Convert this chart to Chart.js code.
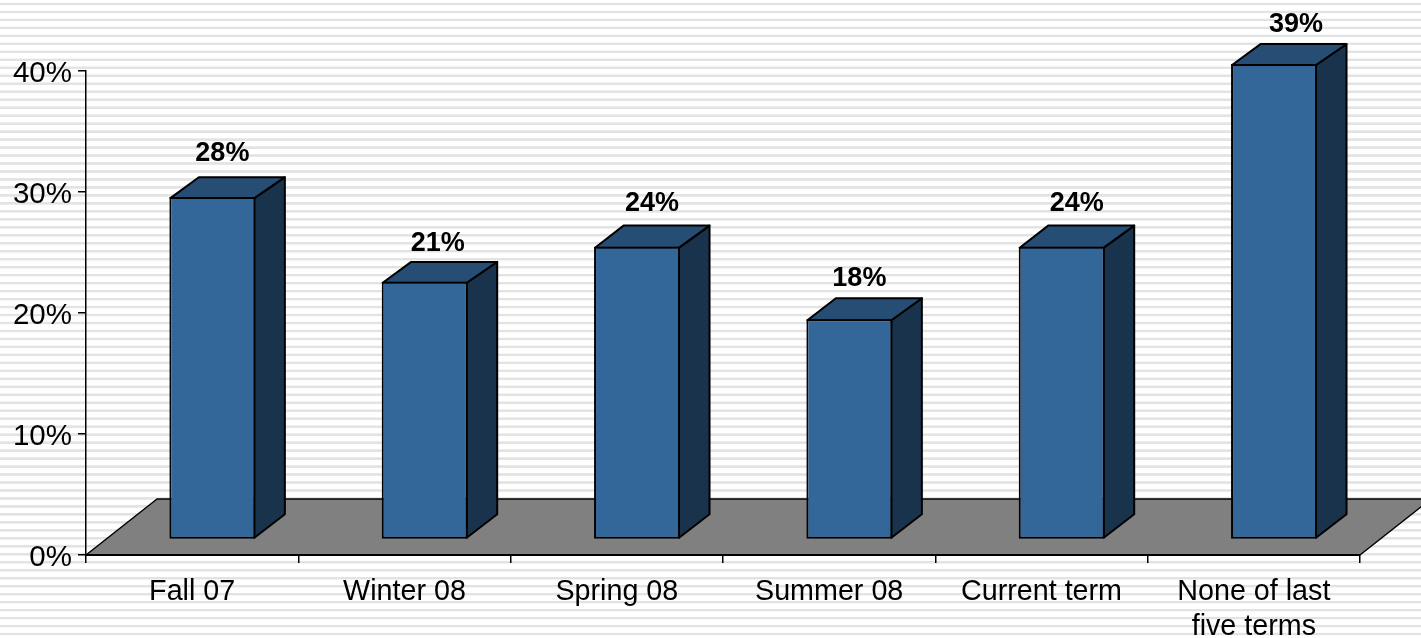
<!DOCTYPE html>
<html><head><meta charset="utf-8">
<style>
html,body{margin:0;padding:0;width:1421px;height:638px;overflow:hidden;
background:repeating-linear-gradient(to bottom,#ffffff 0px,#ffffff 2.4px,#e3e3e3 3.1px,#e3e3e3 4.9px,#ffffff 5.6px,#ffffff 7.975px);}
canvas{display:block}
</style>
<script src="https://cdn.jsdelivr.net/npm/chart.js@4"></script>
</head><body>
<canvas id="c" width="1421" height="638"></canvas>
<script>
const categories = ['Fall 07','Winter 08','Spring 08','Summer 08','Current term',['None of last','five terms']];
const barValues = [28.3,21.3,24.2,18.2,24.2,39.3];
const backValues = [28,21,24,18,24,39];
const valueLabels = ['28%','21%','24%','18%','24%','39%'];
const yTicks = [0,10,20,30,40];
const labelNudgeX = [10,13,15,10,15,22];
const labelNudgeY = [44,38,43,41,43,39];

const FRONT='#336699', TOP='#264D73', SIDE='#1A334D', FLOOR='#808080';
const SHIFT={x:20.2,y:-15.5}, DEPTH={x:29.5,y:-23.5}, FLOORD={x:71,y:-56};

function poly(ctx,pts,fill,lw){
  ctx.beginPath();pts.forEach((p,i)=>i?ctx.lineTo(p[0],p[1]):ctx.moveTo(p[0],p[1]));ctx.closePath();
  ctx.fillStyle=fill;ctx.fill();ctx.strokeStyle='#000';ctx.lineWidth=lw||2;ctx.lineJoin='round';ctx.stroke();
}
const box3d={
  id:'box3d',
  beforeDatasetsDraw(chart){
    const {ctx,scales:{x,y}}=chart, y0=y.getPixelForValue(0);
    poly(ctx,[[x.left,y0],[x.right,y0],[x.right+FLOORD.x,y0+FLOORD.y],[x.left+FLOORD.x,y0+FLOORD.y]],FLOOR,1.5);
    ctx.beginPath();ctx.moveTo(x.left,y0);ctx.lineTo(x.right,y0);ctx.strokeStyle='#000';ctx.lineWidth=2;ctx.stroke();
  },
  beforeDatasetDraw(chart){
    const {ctx,scales:{y}}=chart;
    ctx.save();ctx.translate(SHIFT.x,SHIFT.y);
    chart.getDatasetMeta(0).data.forEach((b,i)=>{
      const l=b.x-b.width/2,r=b.x+b.width/2,t=b.y+1,bt=b.base-1;
      const bk=y.getPixelForValue(backValues[i])+DEPTH.y;
      poly(ctx,[[r-1,t],[r+DEPTH.x,bk],[r+DEPTH.x,bt+DEPTH.y],[r-1,bt]],SIDE);
      poly(ctx,[[l+1,t],[l+DEPTH.x,bk],[r+DEPTH.x,bk],[r-1,t]],TOP);
    });
  },
  afterDatasetDraw(chart){
    const {ctx}=chart;ctx.restore();
    ctx.save();
    ctx.font='bold 27px "Liberation Sans"';ctx.fillStyle='#000';ctx.textAlign='center';ctx.textBaseline='middle';
    chart.getDatasetMeta(0).data.forEach((b,i)=>{
      ctx.fillText(valueLabels[i],b.x+SHIFT.x+labelNudgeX[i],b.y+SHIFT.y-labelNudgeY[i]);
    });
    ctx.restore();
  }
};
new Chart(document.getElementById('c'),{
  type:'bar',
  data:{labels:categories,datasets:[{data:barValues,backgroundColor:FRONT,borderColor:'#000',borderWidth:2,borderSkipped:false,categoryPercentage:1,barPercentage:0.405}]},
  plugins:[box3d],
  options:{
    responsive:false,animation:false,devicePixelRatio:1,
    layout:{padding:{top:71,right:61,left:0,bottom:0}},
    plugins:{legend:{display:false},tooltip:{enabled:false},title:{display:false}},
    scales:{
      x:{
        afterFit(s){s.height=83;},
        grid:{drawOnChartArea:false,color:'#000',lineWidth:1.5,tickLength:8},
        border:{color:'#000',width:2},
        ticks:{color:'#000',font:{family:'"Liberation Sans"',size:28.7,lineHeight:1.23},maxRotation:0,autoSkip:false,padding:11}
      },
      y:{
        min:0,max:40,
        afterFit(s){s.width=86;},
        afterBuildTicks(s){s.ticks=yTicks.map(v=>({value:v}));},
        grid:{drawOnChartArea:false,color:'#000',lineWidth:1.5,tickLength:8},
        border:{color:'#000',width:1.5},
        ticks:{color:'#000',font:{family:'"Liberation Sans"',size:29.5},padding:6,labelOffset:3,callback:v=>v+'%'}
      }
    }
  }
});
</script>
</body></html>
